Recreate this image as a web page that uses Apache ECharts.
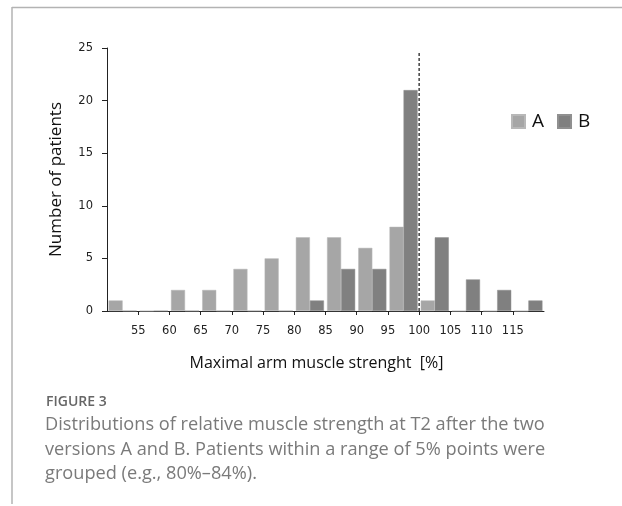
<!DOCTYPE html>
<html>
<head>
<meta charset="utf-8">
<script src="https://cdn.jsdelivr.net/npm/echarts@6/dist/echarts.min.js"></script>
<style>html,body{margin:0;padding:0;background:#fff;}#c{width:622px;height:506px;}</style>
</head>
<body>
<div id="c"></div>
<script>
const categories = ['50','55','60','65','70','75','80','85','90','95','100','105','110','115'];
const seriesA = [1,0,2,2,4,5,7,7,6,8,1,0,0,0];
const seriesB = [0,0,0,0,0,0,1,4,4,21,7,3,2,1];
const tickLabels = [55,60,65,70,75,80,85,90,95,100,105,110,115];
const yTicks = [0,5,10,15,20,25];
const refLine = [[100,0],[100,24.6]];

const chart = echarts.init(document.getElementById('c'), null, {renderer:'canvas'});
chart.setOption({
  animation: false,
  backgroundColor: '#fff',
  grid: {left: 107, right: 78, top: 48, bottom: 195, containLabel: false},
  legend: {
    data: ['A','B'], left: 511, top: 112, padding: 0, itemWidth: 13, itemHeight: 13, itemGap: 13,
    icon: 'rect',
    textStyle: {fontFamily: 'Open Sans', fontSize: 19, color: '#111', padding: [0, 0, 0, 2]}
  },
  xAxis: [
    {type: 'category', data: categories, show: false, boundaryGap: true},
    {type: 'value', min: 50, max: 120, interval: 5, position: 'bottom',
     axisLine: {show: true, onZero: false, lineStyle: {color: '#222', width: 1}},
     axisTick: {show: true, length: 4, customValues: tickLabels, lineStyle: {color: '#222'}},
     splitLine: {show: false},
     axisLabel: {customValues: tickLabels, margin: 14, color: '#222', fontFamily: 'DejaVu Sans', fontSize: 11.5},
     name: 'Maximal arm muscle strenght  [%]', nameLocation: 'middle', nameGap: 44,
     nameTextStyle: {fontFamily: 'Open Sans', fontSize: 16, color: '#111', padding: [0, 18, 0, 0]}
    }
  ],
  yAxis: {
    type: 'value', min: 0, max: 25, interval: 5,
    axisLine: {show: true, lineStyle: {color: '#222', width: 1}},
    axisTick: {show: true, length: 5, lineStyle: {color: '#222'}},
    splitLine: {show: false},
    axisLabel: {margin: 14, color: '#222', fontFamily: 'DejaVu Sans', fontSize: 11.5},
    name: 'Number of patients', nameLocation: 'middle', nameGap: 42,
    nameTextStyle: {fontFamily: 'Open Sans', fontSize: 17, color: '#111'}
  },
  series: [
    {name: 'A', type: 'bar', xAxisIndex: 0, data: seriesA, barGap: '0%', barCategoryGap: '10%',
     itemStyle: {color: '#a6a6a6', borderColor: '#b8b8b8', borderWidth: 0.5}},
    {name: 'B', type: 'bar', xAxisIndex: 0, data: seriesB,
     itemStyle: {color: '#808080', borderColor: '#909090', borderWidth: 0.5}},
    {name: 'ref', type: 'line', xAxisIndex: 1, data: refLine, symbol: 'none', silent: true,
     lineStyle: {color: '#333', width: 1.4, type: [3,2]}, z: 5}
  ],
  graphic: [
    {type: 'line', shape: {x1: 12, y1: 7.5, x2: 622, y2: 7.5}, style: {stroke: '#b3b3b3', lineWidth: 1.5}},
    {type: 'line', shape: {x1: 12, y1: 7, x2: 12, y2: 504}, style: {stroke: '#b3b3b3', lineWidth: 1.5}},
    {type: 'text', left: 46, top: 395, style: {text: 'FIGURE 3', font: '600 14px "Open Sans"', fill: '#666'}},
    {type: 'text', left: 45, top: 413, style: {
      text: 'Distributions of relative muscle strength at T2 after the two\nversions A and B. Patients within a range of 5% points were\ngrouped (e.g., 80%\u201384%).',
      font: '400 18.2px "Open Sans"', fill: '#7a7a7a', lineHeight: 24.3}}
  ]
});
</script>
</body>
</html>
